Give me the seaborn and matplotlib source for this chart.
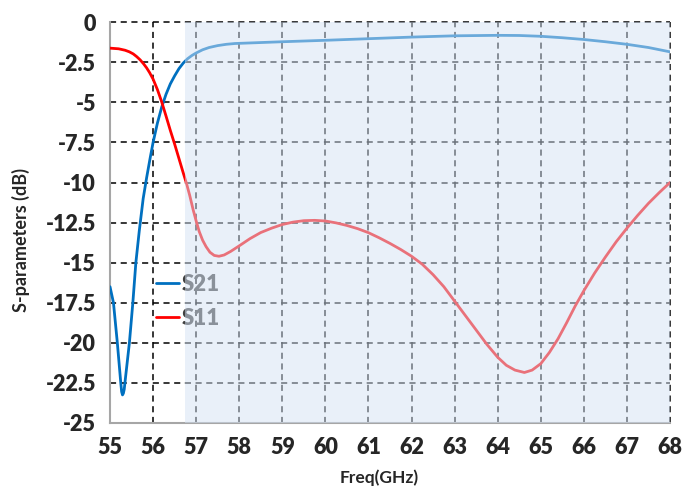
import numpy as np
import pandas as pd
import matplotlib
matplotlib.use("Agg")
import matplotlib.pyplot as plt
import seaborn as sns

# S21 (transmission)
s21_freq = [55.0, 55.08, 55.17, 55.25, 55.27, 55.29, 55.31, 55.33, 55.35, 55.45,
            55.53, 55.6, 55.68, 55.77, 55.85, 55.93, 56.0, 56.1, 56.2, 56.3,
            56.4, 56.5, 56.6, 56.7, 56.8, 56.9, 57.0, 57.15, 57.3, 57.5,
            57.7, 57.9, 58.5, 59.0, 60.0, 61.0, 62.0, 63.0, 64.0, 64.5,
            65.0, 65.5, 66.0, 66.5, 67.0, 67.5, 68.0]
s21_db = [-16.5, -17.5, -20.0, -22.5, -23.05, -23.25, -23.15, -22.9, -22.4, -20.0,
          -17.5, -15.0, -13.0, -11.0, -9.7, -8.5, -7.5, -6.3, -5.3, -4.5,
          -3.85, -3.35, -2.9, -2.55, -2.28, -2.08, -1.92, -1.72, -1.58, -1.46,
          -1.38, -1.33, -1.27, -1.22, -1.13, -1.03, -0.93, -0.85, -0.82, -0.83,
          -0.88, -0.97, -1.08, -1.22, -1.38, -1.58, -1.85]

# S11 (reflection)
s11_freq = [55.0, 55.2, 55.35, 55.45, 55.54, 55.62, 55.7, 55.78, 55.85, 55.92,
            56.0, 56.1, 56.2, 56.3, 56.4, 56.5, 56.6, 56.7, 56.78, 56.85,
            56.93, 57.0, 57.07, 57.15, 57.23, 57.32, 57.42, 57.53, 57.65, 57.8,
            58.0, 58.25, 58.5, 58.75, 59.0, 59.25, 59.5, 59.75, 60.0, 60.25,
            60.5, 60.75, 61.0, 61.25, 61.5, 61.75, 62.0, 62.25, 62.5, 62.75,
            63.0, 63.25, 63.5, 63.75, 64.0, 64.2, 64.4, 64.62, 64.8, 65.0,
            65.2, 65.4, 65.6, 65.8, 66.0, 66.25, 66.5, 66.75, 67.0, 67.25,
            67.5, 67.75, 68.0]
s11_db = [-1.62, -1.66, -1.75, -1.85, -1.98, -2.15, -2.35, -2.6, -2.85, -3.15,
          -3.55, -4.2, -4.97, -5.85, -6.75, -7.6, -8.5, -9.4, -10.1, -10.8,
          -11.7, -12.4, -13.05, -13.6, -14.0, -14.35, -14.55, -14.6, -14.52, -14.3,
          -13.95, -13.5, -13.12, -12.85, -12.62, -12.47, -12.38, -12.36, -12.4, -12.52,
          -12.68, -12.88, -13.13, -13.45, -13.8, -14.18, -14.6, -15.1, -15.75, -16.5,
          -17.4, -18.3, -19.2, -20.1, -20.9, -21.4, -21.7, -21.85, -21.7, -21.3,
          -20.6, -19.75, -18.75, -17.7, -16.75, -15.65, -14.65, -13.7, -12.85, -12.05,
          -11.3, -10.63, -10.0]

x_ticks = list(range(55, 69))
y_ticks = [0, -2.5, -5, -7.5, -10, -12.5, -15, -17.5, -20, -22.5, -25]
y_tick_labels = ["0", "-2.5", "-5", "-7.5", "-10", "-12.5", "-15", "-17.5", "-20", "-22.5", "-25"]

BLUE = "#0070C0"
RED = "#FF0000"
SHADE = "#D5E3F5"

sns.set_style("white")
plt.rcParams["font.family"] = ["Lato", "DejaVu Sans"]

fig = plt.figure(figsize=(6.85, 4.93), dpi=100)
ax = fig.add_axes([0.1606, 0.142, 0.8175, 0.813])

df21 = pd.DataFrame({"freq": s21_freq, "db": s21_db})
df11 = pd.DataFrame({"freq": s11_freq, "db": s11_db})
sns.lineplot(data=df21, x="freq", y="db", color=BLUE, lw=2.0, label="S21", ax=ax, zorder=3)
sns.lineplot(data=df11, x="freq", y="db", color=RED, lw=2.0, label="S11", ax=ax, zorder=3)

ax.set_xlim(55, 68)
ax.set_ylim(-25, 0)
ax.set_xticks(x_ticks)
ax.set_yticks(y_ticks)
ax.set_yticklabels(y_tick_labels)

ax.set_axisbelow(True)
ax.grid(True, color="black", linestyle=(0, (4, 3)), linewidth=1.1)
for gl in ax.get_xgridlines() + ax.get_ygridlines():
    gl.set_clip_on(False)

for side in ["top", "right"]:
    ax.spines[side].set_visible(False)
for side in ["left", "bottom"]:
    ax.spines[side].set_color("#A6A6A6")
    ax.spines[side].set_linewidth(1.5)

ax.tick_params(axis="both", which="major", direction="out", length=6, width=1,
               color="#A6A6A6", labelsize=15.5, pad=4)
for lbl in ax.get_xticklabels() + ax.get_yticklabels():
    lbl.set_fontweight("heavy")

ax.set_xlabel("Freq(GHz)", fontsize=12.5, fontweight="bold")
ax.set_ylabel("S-parameters (dB)", fontsize=13, fontweight="bold")
ax.xaxis.set_label_coords(0.48, -0.115)
ax.yaxis.set_label_coords(-0.142, 0.456)

leg = ax.legend(loc="upper left", bbox_to_anchor=(0.083, 0.372), frameon=False,
                borderpad=0, borderaxespad=0, handlelength=1.0, handletextpad=0.12,
                labelspacing=0.6, prop={"family": "Lato", "weight": "heavy", "size": 16})
for t in leg.get_texts():
    t.set_color("#404040")
leg.set_zorder(4)

# light blue translucent band over the passband
ax.axvspan(56.75, 68, ymin=0, ymax=1, color=SHADE, alpha=0.5, lw=0, zorder=6)

fig.savefig("out.png", dpi=100)
